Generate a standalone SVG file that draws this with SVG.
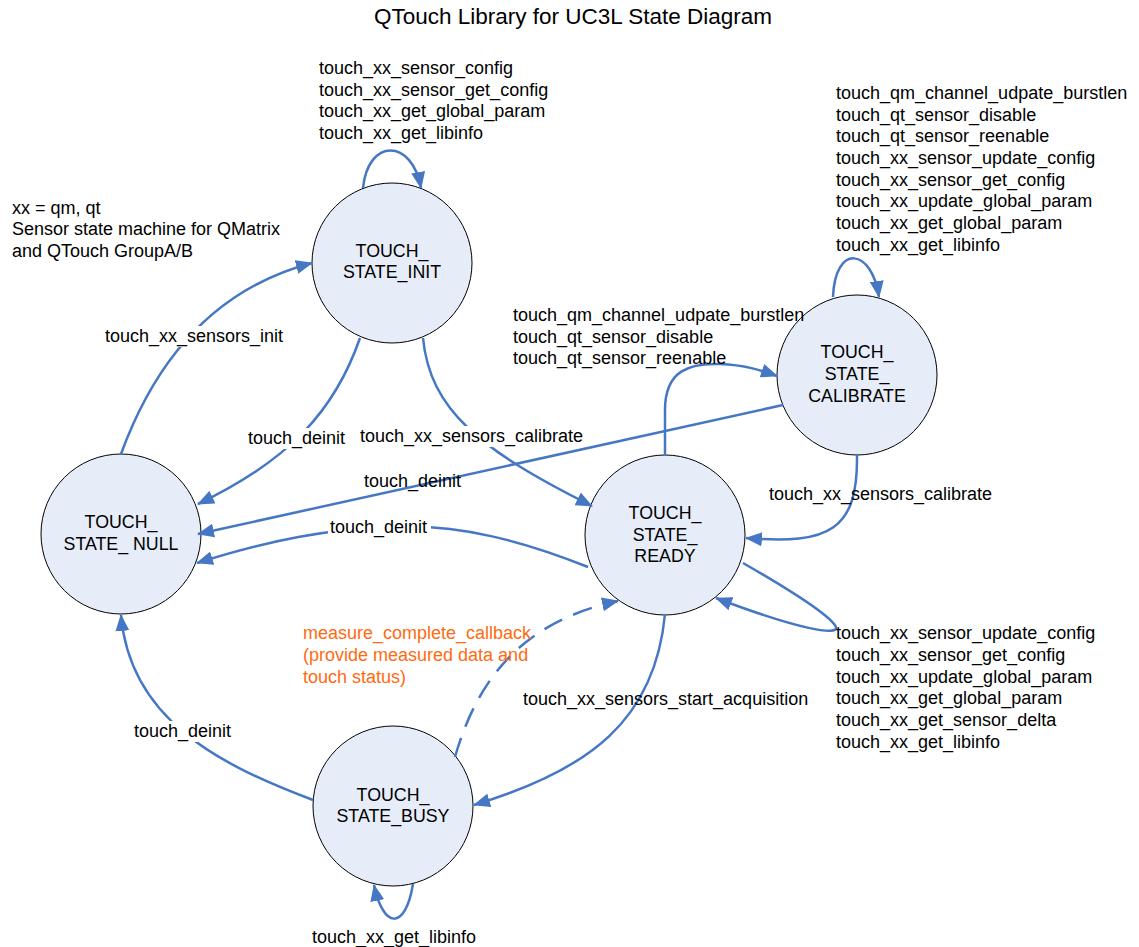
<svg xmlns="http://www.w3.org/2000/svg" width="1139" height="947" viewBox="0 0 1139 947">
<style>
.bg{fill:#ffffff}
.node circle{fill:#E6EDF8;stroke:#000000;stroke-width:1}
.node text{font-family:"Liberation Sans",Arial,sans-serif;font-size:17.8px;fill:#000;text-anchor:middle}
.edge{fill:none;stroke:#4677C4;stroke-width:2.5;marker-end:url(#arr)}
.dash{stroke-dasharray:20 12}
.lbl{font-family:"Liberation Sans",Arial,sans-serif;font-size:18px;fill:#000}
.mask{fill:#ffffff}
.orange{fill:#FF6A10}
.title{font-family:"Liberation Sans",Arial,sans-serif;font-size:22.5px;fill:#000;text-anchor:middle}
</style>
<defs>
<marker id="arr" markerUnits="userSpaceOnUse" markerWidth="18" markerHeight="14" refX="16" refY="7" orient="auto">
<path d="M0,0 L17,7 L0,14 z" fill="#4677C4"/>
</marker>
</defs>
<rect class="bg" x="0" y="0" width="1139" height="947"/>
<text class="title" x="573" y="24">QTouch Library for UC3L State Diagram</text>

<g id="nodes">
<g id="node-init" class="node"><circle cx="392" cy="263" r="80"/><text x="392" y="257">TOUCH_</text><text x="392" y="278">STATE_INIT</text></g>
<g id="node-null" class="node"><circle cx="121" cy="534" r="80"/><text x="121" y="528">TOUCH_</text><text x="121" y="550">STATE_ NULL</text></g>
<g id="node-calibrate" class="node"><circle cx="857" cy="375" r="80"/><text x="857" y="358">TOUCH_</text><text x="857" y="380">STATE_</text><text x="857" y="402">CALIBRATE</text></g>
<g id="node-ready" class="node"><circle cx="665" cy="535" r="80"/><text x="665" y="519">TOUCH_</text><text x="665" y="541">STATE_</text><text x="665" y="562">READY</text></g>
<g id="node-busy" class="node"><circle cx="393" cy="806" r="80"/><text x="393" y="801">TOUCH_</text><text x="393" y="822">STATE_BUSY</text></g>
</g>

<g id="connectors">
<path class="edge" d="M121,454 Q178,298 312,263"/>
<path class="edge" d="M363,188 C368,138 412,138 421,188"/>
<path class="edge" d="M360,338 C335,410 290,460 198,504"/>
<path class="edge" d="M423,338 C430,410 480,450 592,506"/>
<path class="edge" d="M665,455 L665,410 C665,370 690,363 720,364 C745,365 760,370 777,376"/>
<path class="edge" d="M833,297 C835,243 872,248 879,297"/>
<path class="edge" d="M783,405 L198,534"/>
<path class="edge" d="M857,455 C858,530 830,545 746,538"/>
<path class="edge" d="M588,567 C520,540 460,525 400,527 C330,528 270,540 197,563"/>
<path class="edge" d="M743,563 C790,590 830,615 836,627 C839,636 800,630 716,598"/>
<path class="edge" d="M665,614 C655,720 590,770 474,805"/>
<path class="edge dash" d="M455,757 C480,670 530,620 618,601"/>
<path class="edge" d="M313,800 C220,765 130,720 121,615"/>
<path class="edge" d="M413,884 C405,932 383,928 374,885"/>
</g>

<g id="labels">
<rect class="mask" x="103" y="326" width="182" height="21"/>
<text class="lbl" x="105" y="342">touch_xx_sensors_init</text>
<rect class="mask" x="246" y="428" width="103" height="21"/>
<text class="lbl" x="248" y="444">touch_deinit</text>
<rect class="mask" x="358" y="426" width="227" height="21"/>
<text class="lbl" x="360" y="442">touch_xx_sensors_calibrate</text>
<text class="lbl" x="364" y="487">touch_deinit</text>
<rect class="mask" x="328" y="517" width="103" height="21"/>
<text class="lbl" x="330" y="533">touch_deinit</text>
<text class="lbl" x="769" y="500">touch_xx_sensors_calibrate</text>
<text class="lbl" x="523" y="705">touch_xx_sensors_start_acquisition</text>
<rect class="mask" x="132" y="721" width="103" height="21"/>
<text class="lbl" x="134" y="737">touch_deinit</text>
<text class="lbl" x="312" y="943">touch_xx_get_libinfo</text>
<text class="lbl orange" x="303" y="639">measure_complete_callback</text>
<text class="lbl orange" x="303" y="661">(provide measured data and</text>
<text class="lbl orange" x="303" y="683">touch status)</text>

<text class="lbl" x="319" y="74">touch_xx_sensor_config</text>
<text class="lbl" x="319" y="96">touch_xx_sensor_get_config</text>
<text class="lbl" x="319" y="117">touch_xx_get_global_param</text>
<text class="lbl" x="319" y="139">touch_xx_get_libinfo</text>

<text class="lbl" x="12" y="214">xx = qm, qt</text>
<text class="lbl" x="12" y="235">Sensor state machine for QMatrix</text>
<text class="lbl" x="12" y="257">and QTouch GroupA/B</text>

<text class="lbl" x="836" y="99">touch_qm_channel_udpate_burstlen</text>
<text class="lbl" x="836" y="121">touch_qt_sensor_disable</text>
<text class="lbl" x="836" y="142">touch_qt_sensor_reenable</text>
<text class="lbl" x="836" y="164">touch_xx_sensor_update_config</text>
<text class="lbl" x="836" y="186">touch_xx_sensor_get_config</text>
<text class="lbl" x="836" y="207">touch_xx_update_global_param</text>
<text class="lbl" x="836" y="229">touch_xx_get_global_param</text>
<text class="lbl" x="836" y="251">touch_xx_get_libinfo</text>

<text class="lbl" x="513" y="321">touch_qm_channel_udpate_burstlen</text>
<text class="lbl" x="513" y="343">touch_qt_sensor_disable</text>
<text class="lbl" x="513" y="364">touch_qt_sensor_reenable</text>

<text class="lbl" x="836" y="639">touch_xx_sensor_update_config</text>
<text class="lbl" x="836" y="661">touch_xx_sensor_get_config</text>
<text class="lbl" x="836" y="683">touch_xx_update_global_param</text>
<text class="lbl" x="836" y="704">touch_xx_get_global_param</text>
<text class="lbl" x="836" y="726">touch_xx_get_sensor_delta</text>
<text class="lbl" x="836" y="748">touch_xx_get_libinfo</text>
</g>
</svg>
